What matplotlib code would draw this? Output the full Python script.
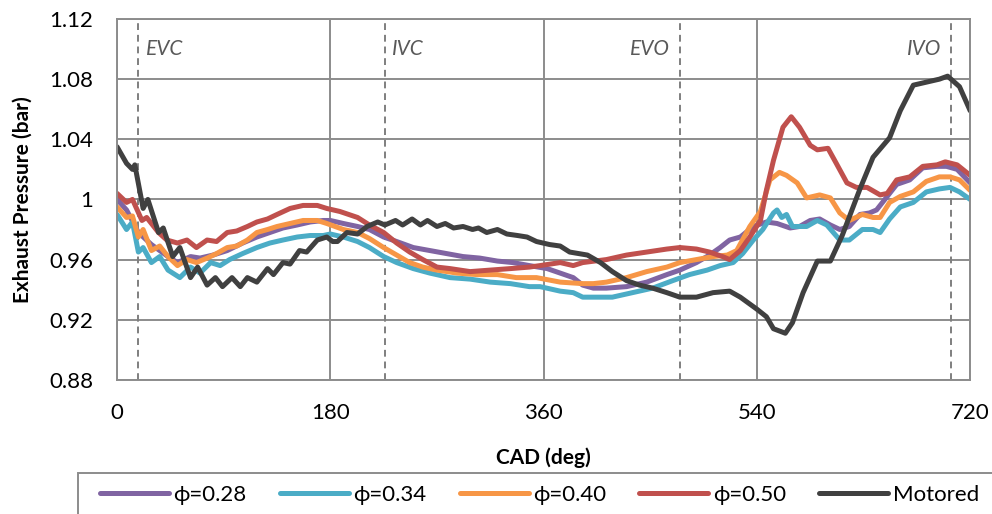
import matplotlib
matplotlib.use('Agg')
import matplotlib.pyplot as plt
from matplotlib.patches import Rectangle

plt.rcParams['font.family'] = ['Lato', 'DejaVu Sans']

# exhaust pressure traces, bar vs crank angle (deg)
cad_028 = [0, 8, 18, 29, 43, 51, 62, 70, 81, 93, 106, 118, 129, 140, 152, 163, 174, 180,
           191, 203, 213, 225, 236, 250, 264, 278, 292, 306, 321, 334, 348, 363, 374, 385,
           393, 402, 413, 430, 447, 464, 475, 489, 500, 509, 517, 526, 537, 548, 557, 568,
           576, 585, 593, 602, 610, 618, 627, 635, 641, 650, 658, 669, 680, 692, 700, 709, 720]
p_028 = [1.000, 0.993, 0.978, 0.970, 0.962, 0.958, 0.962, 0.961, 0.963, 0.966, 0.971, 0.975,
         0.978, 0.981, 0.983, 0.985, 0.986, 0.986, 0.984, 0.982, 0.980, 0.975, 0.972, 0.968,
         0.966, 0.964, 0.962, 0.961, 0.959, 0.958, 0.956, 0.954, 0.951, 0.948, 0.943, 0.941,
         0.941, 0.942, 0.945, 0.950, 0.953, 0.958, 0.963, 0.968, 0.973, 0.975, 0.982, 0.985,
         0.984, 0.981, 0.982, 0.986, 0.987, 0.983, 0.980, 0.982, 0.990, 0.991, 0.993, 1.002,
         1.010, 1.013, 1.021, 1.022, 1.022, 1.020, 1.011]

cad_034 = [0, 8, 13, 18, 22, 29, 36, 43, 53, 62, 70, 79, 87, 95, 106, 118, 129, 140, 152,
           163, 174, 180, 191, 203, 213, 225, 236, 250, 264, 281, 298, 315, 332, 348, 357,
           374, 385, 393, 405, 418, 435, 452, 469, 483, 498, 509, 520, 528, 537, 545, 554,
           557, 561, 565, 570, 582, 591, 599, 610, 618, 629, 638, 644, 652, 661, 672, 683,
           694, 703, 711, 720]
p_034 = [0.990, 0.980, 0.985, 0.965, 0.968, 0.958, 0.962, 0.953, 0.948, 0.955, 0.951, 0.958,
         0.956, 0.960, 0.964, 0.968, 0.971, 0.973, 0.975, 0.976, 0.976, 0.977, 0.975, 0.972,
         0.968, 0.962, 0.958, 0.954, 0.951, 0.948, 0.947, 0.945, 0.944, 0.942, 0.942, 0.939,
         0.938, 0.935, 0.935, 0.935, 0.938, 0.941, 0.946, 0.950, 0.953, 0.956, 0.958, 0.964,
         0.973, 0.980, 0.991, 0.993, 0.988, 0.990, 0.982, 0.982, 0.986, 0.983, 0.973, 0.973,
         0.980, 0.980, 0.978, 0.987, 0.995, 0.998, 1.005, 1.007, 1.008, 1.005, 1.000]

cad_040 = [0, 8, 13, 18, 22, 29, 36, 43, 51, 59, 67, 76, 84, 93, 101, 110, 118, 127, 135,
           146, 157, 169, 177, 191, 203, 213, 225, 236, 247, 258, 270, 287, 304, 321, 337,
           354, 374, 393, 402, 413, 430, 447, 464, 475, 489, 503, 515, 523, 534, 543, 551,
           559, 565, 574, 582, 593, 602, 610, 618, 629, 638, 644, 652, 661, 672, 683, 694,
           703, 711, 720]
p_040 = [0.995, 0.988, 0.989, 0.975, 0.980, 0.966, 0.969, 0.962, 0.956, 0.960, 0.958, 0.961,
         0.964, 0.968, 0.969, 0.973, 0.978, 0.980, 0.982, 0.984, 0.986, 0.986, 0.984, 0.980,
         0.978, 0.974, 0.968, 0.963, 0.958, 0.955, 0.953, 0.951, 0.950, 0.950, 0.948, 0.948,
         0.945, 0.944, 0.944, 0.945, 0.948, 0.952, 0.955, 0.958, 0.960, 0.962, 0.963, 0.966,
         0.982, 0.992, 1.013, 1.018, 1.016, 1.011, 1.001, 1.003, 1.001, 0.991, 0.986, 0.990,
         0.988, 0.988, 0.998, 1.002, 1.005, 1.012, 1.015, 1.015, 1.013, 1.006]

cad_050 = [0, 8, 13, 21, 25, 35, 42, 51, 59, 67, 76, 84, 93, 101, 110, 118, 127, 135, 146,
           157, 169, 177, 188, 203, 213, 225, 236, 247, 258, 270, 281, 298, 315, 332, 348,
           357, 374, 385, 393, 413, 430, 447, 464, 475, 489, 500, 511, 517, 526, 534, 543,
           548, 554, 562, 569, 576, 585, 591, 600, 607, 616, 624, 633, 644, 650, 658, 669,
           680, 692, 699, 709, 720]
p_050 = [1.004, 0.998, 1.000, 0.986, 0.988, 0.978, 0.973, 0.971, 0.973, 0.968, 0.973, 0.972,
         0.978, 0.979, 0.982, 0.985, 0.987, 0.990, 0.994, 0.996, 0.996, 0.994, 0.992, 0.988,
         0.983, 0.978, 0.971, 0.965, 0.960, 0.955, 0.954, 0.952, 0.953, 0.954, 0.955, 0.956,
         0.958, 0.956, 0.958, 0.960, 0.963, 0.965, 0.967, 0.968, 0.967, 0.965, 0.962, 0.960,
         0.966, 0.975, 0.986, 1.006, 1.026, 1.048, 1.055, 1.048, 1.036, 1.033, 1.034, 1.024,
         1.011, 1.008, 1.008, 1.003, 1.004, 1.013, 1.015, 1.022, 1.023, 1.025, 1.023, 1.016]

cad_mot = [0, 8, 13, 15, 22, 26, 35, 39, 47, 53, 62, 68, 76, 83, 89, 97, 104, 110, 118, 127,
           132, 140, 146, 154, 160, 169, 177, 182, 186, 194, 203, 211, 220, 226, 235, 241,
           249, 256, 262, 270, 277, 284, 292, 300, 305, 312, 321, 329, 338, 346, 354, 365,
           374, 382, 397, 408, 418, 430, 441, 452, 464, 475, 489, 503, 517, 526, 540, 548,
           554, 564, 570, 579, 591, 602, 612, 627, 638, 652, 661, 672, 683, 694, 701, 711, 720]
p_mot = [1.035, 1.024, 1.020, 1.023, 0.994, 1.000, 0.978, 0.981, 0.962, 0.968, 0.948, 0.955,
         0.943, 0.948, 0.942, 0.948, 0.942, 0.948, 0.945, 0.954, 0.950, 0.958, 0.957, 0.966,
         0.965, 0.973, 0.975, 0.972, 0.972, 0.978, 0.977, 0.982, 0.985, 0.983, 0.986, 0.983,
         0.987, 0.983, 0.986, 0.982, 0.984, 0.981, 0.982, 0.980, 0.981, 0.978, 0.980, 0.977,
         0.976, 0.975, 0.972, 0.970, 0.969, 0.965, 0.963, 0.958, 0.952, 0.946, 0.943, 0.941,
         0.938, 0.935, 0.935, 0.938, 0.939, 0.935, 0.927, 0.922, 0.914, 0.911, 0.918, 0.938,
         0.959, 0.959, 0.976, 1.007, 1.028, 1.041, 1.059, 1.076, 1.078, 1.080, 1.082, 1.075,
         1.059]

# valve events
event_names = ['EVC', 'IVC', 'EVO', 'IVO']
event_cad = [18, 226, 475, 704]

series = [
    (cad_028, p_028, '\u03d5=0.28', '#8064A2'),
    (cad_034, p_034, '\u03d5=0.34', '#4BACC6'),
    (cad_040, p_040, '\u03d5=0.40', '#F79646'),
    (cad_050, p_050, '\u03d5=0.50', '#C0504D'),
    (cad_mot, p_mot, 'Motored', '#404040'),
]

fig = plt.figure(figsize=(9.92, 5.14), dpi=100)
ax = fig.add_axes([0.118, 0.261, 0.860, 0.702])

for x, y, lab, col in series:
    ax.plot(x, y, color=col, lw=3.6, label=lab,
            solid_capstyle='round', solid_joinstyle='round')

grid_col = '#8c8c8c'
for c in event_cad:
    ax.axvline(c, color='#7f7f7f', lw=1.4, ls=(0, (3.5, 2.5)), zorder=1)
for c, name in zip(event_cad, event_names):
    if name in ('EVC', 'IVC'):
        ax.text(c + 6, 1.1, name, ha='left', va='center', style='italic',
                fontsize=15, color='#595959')
    else:
        ax.text(c - 8, 1.1, name, ha='right', va='center', style='italic',
                fontsize=15, color='#595959')

ax.set_xlim(0, 720)
ax.set_ylim(0.88, 1.12)
ax.set_xticks([0, 180, 360, 540, 720])
ax.set_yticks([0.88, 0.92, 0.96, 1.0, 1.04, 1.08, 1.12])
ax.set_yticklabels(['0.88', '0.92', '0.96', '1', '1.04', '1.08', '1.12'])
ax.tick_params(length=0, labelsize=16, pad=17)
ax.grid(True, color=grid_col, lw=1.4)
ax.set_axisbelow(True)
for s in ax.spines.values():
    s.set_color(grid_col)
    s.set_linewidth(1.4)

ax.set_xlabel('CAD (deg)', fontsize=15, fontweight='bold', labelpad=17)
ax.set_ylabel('Exhaust Pressure (bar)', fontsize=15, fontweight='bold', labelpad=12)

# legend box runs off the right and bottom edges of the figure
fig.patches.append(Rectangle((78 / 992, -0.5), 1.0, 0.5 + 1 - 473 / 514,
                             transform=fig.transFigure, fill=False,
                             edgecolor=grid_col, lw=1.4))
fig.legend(loc='center left', bbox_to_anchor=(100 / 992, 1 - 495 / 514),
           ncol=5, fontsize=16, frameon=False, handlelength=3.1,
           handletextpad=0.2, columnspacing=1.5, borderaxespad=0, borderpad=0)

fig.savefig('out.png', dpi=100)
